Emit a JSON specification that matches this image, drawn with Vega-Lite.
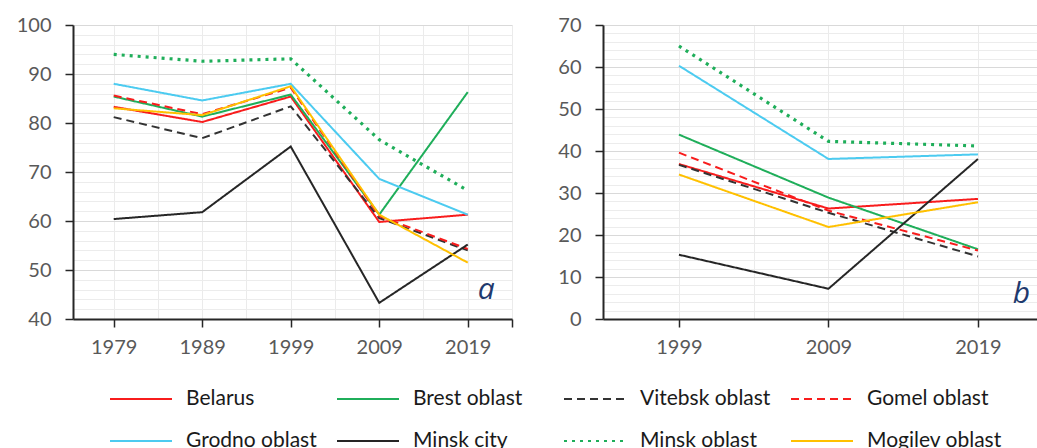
{
  "$schema": "https://vega.github.io/schema/vega-lite/v6.json",
  "padding": {"left": 16, "top": 15, "right": 0, "bottom": 0},
  "background": "white",
  "config": {
    "view": {"stroke": null},
    "font": "Lato",
    "concat": {"spacing": 44},
    "axis": {
      "labelFont": "Lato",
      "labelFontSize": 20,
      "labelColor": "#595959",
      "domainColor": "#262626",
      "domainWidth": 2,
      "tickWidth": 1.5,
      "tickSize": 8,
      "title": null,
      "labelOverlap": false,
      "labelFlush": false
    }
  },
  "datasets": {
    "a": [
      {"series": "Belarus", "year": 1979, "value": 83.3},
      {"series": "Belarus", "year": 1989, "value": 80.2},
      {"series": "Belarus", "year": 1999, "value": 85.4},
      {"series": "Belarus", "year": 2009, "value": 59.8},
      {"series": "Belarus", "year": 2019, "value": 61.3},
      {"series": "Brest oblast", "year": 1979, "value": 85.4},
      {"series": "Brest oblast", "year": 1989, "value": 81.3},
      {"series": "Brest oblast", "year": 1999, "value": 85.8},
      {"series": "Brest oblast", "year": 2009, "value": 61.3},
      {"series": "Brest oblast", "year": 2019, "value": 86.3},
      {"series": "Vitebsk oblast", "year": 1979, "value": 81.2},
      {"series": "Vitebsk oblast", "year": 1989, "value": 76.9},
      {"series": "Vitebsk oblast", "year": 1999, "value": 83.4},
      {"series": "Vitebsk oblast", "year": 2009, "value": 60.6},
      {"series": "Vitebsk oblast", "year": 2019, "value": 54.0},
      {"series": "Gomel oblast", "year": 1979, "value": 85.6},
      {"series": "Gomel oblast", "year": 1989, "value": 81.8},
      {"series": "Gomel oblast", "year": 1999, "value": 87.2},
      {"series": "Gomel oblast", "year": 2009, "value": 61.0},
      {"series": "Gomel oblast", "year": 2019, "value": 54.3},
      {"series": "Grodno oblast", "year": 1979, "value": 88.0},
      {"series": "Grodno oblast", "year": 1989, "value": 84.6},
      {"series": "Grodno oblast", "year": 1999, "value": 88.0},
      {"series": "Grodno oblast", "year": 2009, "value": 68.6},
      {"series": "Grodno oblast", "year": 2019, "value": 61.3},
      {"series": "Minsk city", "year": 1979, "value": 60.4},
      {"series": "Minsk city", "year": 1989, "value": 61.8},
      {"series": "Minsk city", "year": 1999, "value": 75.2},
      {"series": "Minsk city", "year": 2009, "value": 43.3},
      {"series": "Minsk city", "year": 2019, "value": 55.2},
      {"series": "Minsk oblast", "year": 1979, "value": 94.0},
      {"series": "Minsk oblast", "year": 1989, "value": 92.6},
      {"series": "Minsk oblast", "year": 1999, "value": 93.1},
      {"series": "Minsk oblast", "year": 2009, "value": 76.6},
      {"series": "Minsk oblast", "year": 2019, "value": 66.2},
      {"series": "Mogilev oblast", "year": 1979, "value": 83.0},
      {"series": "Mogilev oblast", "year": 1989, "value": 81.6},
      {"series": "Mogilev oblast", "year": 1999, "value": 87.5},
      {"series": "Mogilev oblast", "year": 2009, "value": 61.3},
      {"series": "Mogilev oblast", "year": 2019, "value": 51.5}
    ],
    "b": [
      {"series": "Belarus", "year": 1999, "value": 36.9},
      {"series": "Belarus", "year": 2009, "value": 26.3},
      {"series": "Belarus", "year": 2019, "value": 28.6},
      {"series": "Brest oblast", "year": 1999, "value": 43.9},
      {"series": "Brest oblast", "year": 2009, "value": 28.9},
      {"series": "Brest oblast", "year": 2019, "value": 16.6},
      {"series": "Vitebsk oblast", "year": 1999, "value": 36.7},
      {"series": "Vitebsk oblast", "year": 2009, "value": 25.3},
      {"series": "Vitebsk oblast", "year": 2019, "value": 14.9},
      {"series": "Gomel oblast", "year": 1999, "value": 39.6},
      {"series": "Gomel oblast", "year": 2009, "value": 25.8},
      {"series": "Gomel oblast", "year": 2019, "value": 16.3},
      {"series": "Grodno oblast", "year": 1999, "value": 60.3},
      {"series": "Grodno oblast", "year": 2009, "value": 38.1},
      {"series": "Grodno oblast", "year": 2019, "value": 39.2},
      {"series": "Minsk city", "year": 1999, "value": 15.3},
      {"series": "Minsk city", "year": 2009, "value": 7.2},
      {"series": "Minsk city", "year": 2019, "value": 38.1},
      {"series": "Minsk oblast", "year": 1999, "value": 65.0},
      {"series": "Minsk oblast", "year": 2009, "value": 42.3},
      {"series": "Minsk oblast", "year": 2019, "value": 41.2},
      {"series": "Mogilev oblast", "year": 1999, "value": 34.4},
      {"series": "Mogilev oblast", "year": 2009, "value": 21.9},
      {"series": "Mogilev oblast", "year": 2019, "value": 27.8}
    ],
    "labels_a": [{"label": "a"}],
    "labels_b": [{"label": "b"}]
  },
  "resolve": {"scale": {"color": "shared", "strokeDash": "shared"}},
  "hconcat": [
    {
      "width": 439,
      "height": 294,
      "layer": [
        {
          "data": {"name": "a"},
          "mark": {"type": "line", "strokeJoin": "miter"},
          "encoding": {
            "x": {
              "field": "year", "type": "quantitative",
              "scale": {"domain": [1974.4, 2024], "nice": false, "zero": false},
              "axis": {
                "values": [1979, 1984, 1989, 1994, 1999, 2004, 2009, 2014, 2019, 2024],
                "tickCount": 100,
                "format": "d",
                "labelOverlap": false,
                "labelExpr": "((datum.value - 1979) % 10 === 0 && datum.value < 2020) ? datum.label : ''",
                "grid": true,
                "gridColor": "#ebebeb",
                "tickColor": {"condition": {"test": "(datum.value - 1979) % 10 === 0 || datum.value === 2024", "value": "#262626"}, "value": "transparent"},
                "labelPadding": 10
              }
            },
            "y": {
              "field": "value", "type": "quantitative",
              "scale": {"domain": [40, 100], "nice": false, "zero": false},
              "axis": {
                "values": [40, 42, 44, 46, 48, 50, 52, 54, 56, 58, 60, 62, 64, 66, 68, 70, 72, 74, 76, 78, 80, 82, 84, 86, 88, 90, 92, 94, 96, 98, 100],
                "tickCount": 100,
                "format": "d",
                "labelOverlap": false,
                "labelExpr": "datum.value % 10 === 0 ? datum.label : ''",
                "grid": true,
                "gridColor": {"condition": {"test": "datum.value % 10 === 0", "value": "#d9d9d9"}, "value": "#ececec"},
                "tickColor": {"condition": {"test": "datum.value % 10 === 0", "value": "#262626"}, "value": "transparent"},
                "labelPadding": 14
              }
            },
            "color": {
              "field": "series", "type": "nominal",
              "scale": {
                "domain": ["Belarus", "Brest oblast", "Vitebsk oblast", "Gomel oblast", "Grodno oblast", "Minsk city", "Minsk oblast", "Mogilev oblast"],
                "range": ["#f81c1c", "#1fae5a", "#333333", "#f81c1c", "#4ccbf0", "#262626", "#1fae5a", "#ffc000"]
              },
              "legend": {
                "title": null, "orient": "none", "legendX": 36, "legendY": 342, "columns": 4, "direction": "horizontal",
                "gridAlign": "all", "columnPadding": 12, "rowPadding": -31, "padding": 0,
                "symbolType": "stroke", "symbolSize": 3844, "symbolStrokeWidth": 2,
                "labelOffset": 13, "labelFont": "Lato", "labelFontSize": 21, "labelColor": "#1a1a1a", "labelLimit": 300
              }
            },
            "strokeDash": {
              "field": "series", "type": "nominal",
              "scale": {
                "domain": ["Belarus", "Brest oblast", "Vitebsk oblast", "Gomel oblast", "Grodno oblast", "Minsk city", "Minsk oblast", "Mogilev oblast"],
                "range": [[1, 0], [1, 0], [8, 5], [8, 5], [1, 0], [1, 0], [3, 5], [1, 0]]
              },
              "legend": {
                "title": null, "orient": "none", "legendX": 36, "legendY": 342, "columns": 4, "direction": "horizontal",
                "gridAlign": "all", "columnPadding": 12, "rowPadding": -31, "padding": 0,
                "symbolType": "stroke", "symbolSize": 3844, "symbolStrokeWidth": 2,
                "labelOffset": 13, "labelFont": "Lato", "labelFontSize": 21, "labelColor": "#1a1a1a", "labelLimit": 300
              }
            },
            "strokeWidth": {"condition": {"test": "datum.series === 'Minsk oblast'", "value": 3.2}, "value": 2}
          }
        },
        {
          "data": {"name": "labels_a"},
          "mark": {"type": "text", "font": "Open Sans", "fontStyle": "italic", "fontSize": 30, "color": "#1f3a6e", "align": "center", "baseline": "middle"},
          "encoding": {"text": {"field": "label"}, "x": {"datum": 2021.1}, "y": {"datum": 46.0}}
        }
      ]
    },
    {
      "width": 437,
      "height": 294,
      "layer": [
        {
          "data": {"name": "b"},
          "mark": {"type": "line", "strokeJoin": "miter"},
          "encoding": {
            "x": {
              "field": "year", "type": "quantitative",
              "scale": {"domain": [1993.92, 2023.15], "nice": false, "zero": false},
              "axis": {
                "values": [1999, 2004, 2009, 2014, 2019],
                "tickCount": 100,
                "format": "d",
                "labelOverlap": false,
                "labelExpr": "(datum.value - 1999) % 10 === 0 ? datum.label : ''",
                "grid": true,
                "gridColor": "#ebebeb",
                "tickColor": {"condition": {"test": "(datum.value - 1999) % 10 === 0", "value": "#262626"}, "value": "transparent"},
                "labelPadding": 10
              }
            },
            "y": {
              "field": "value", "type": "quantitative",
              "scale": {"domain": [0, 70], "nice": false, "zero": false},
              "axis": {
                "values": [0, 2, 4, 6, 8, 10, 12, 14, 16, 18, 20, 22, 24, 26, 28, 30, 32, 34, 36, 38, 40, 42, 44, 46, 48, 50, 52, 54, 56, 58, 60, 62, 64, 66, 68, 70],
                "tickCount": 100,
                "format": "d",
                "labelOverlap": false,
                "labelExpr": "datum.value % 10 === 0 ? datum.label : ''",
                "grid": true,
                "gridColor": {"condition": {"test": "datum.value % 10 === 0", "value": "#d9d9d9"}, "value": "#ececec"},
                "tickColor": {"condition": {"test": "datum.value % 10 === 0", "value": "#262626"}, "value": "transparent"},
                "labelPadding": 14
              }
            },
            "color": {
              "field": "series", "type": "nominal",
              "scale": {
                "domain": ["Belarus", "Brest oblast", "Vitebsk oblast", "Gomel oblast", "Grodno oblast", "Minsk city", "Minsk oblast", "Mogilev oblast"],
                "range": ["#f81c1c", "#1fae5a", "#333333", "#f81c1c", "#4ccbf0", "#262626", "#1fae5a", "#ffc000"]
              },
              "legend": {
                "title": null, "orient": "none", "legendX": 36, "legendY": 342, "columns": 4, "direction": "horizontal",
                "gridAlign": "all", "columnPadding": 12, "rowPadding": -31, "padding": 0,
                "symbolType": "stroke", "symbolSize": 3844, "symbolStrokeWidth": 2,
                "labelOffset": 13, "labelFont": "Lato", "labelFontSize": 21, "labelColor": "#1a1a1a", "labelLimit": 300
              }
            },
            "strokeDash": {
              "field": "series", "type": "nominal",
              "scale": {
                "domain": ["Belarus", "Brest oblast", "Vitebsk oblast", "Gomel oblast", "Grodno oblast", "Minsk city", "Minsk oblast", "Mogilev oblast"],
                "range": [[1, 0], [1, 0], [8, 5], [8, 5], [1, 0], [1, 0], [3, 5], [1, 0]]
              },
              "legend": {
                "title": null, "orient": "none", "legendX": 36, "legendY": 342, "columns": 4, "direction": "horizontal",
                "gridAlign": "all", "columnPadding": 12, "rowPadding": -31, "padding": 0,
                "symbolType": "stroke", "symbolSize": 3844, "symbolStrokeWidth": 2,
                "labelOffset": 13, "labelFont": "Lato", "labelFontSize": 21, "labelColor": "#1a1a1a", "labelLimit": 300
              }
            },
            "strokeWidth": {"condition": {"test": "datum.series === 'Minsk oblast'", "value": 3.2}, "value": 2}
          }
        },
        {
          "data": {"name": "labels_b"},
          "mark": {"type": "text", "font": "Open Sans", "fontStyle": "italic", "fontSize": 30, "color": "#1f3a6e", "align": "center", "baseline": "middle"},
          "encoding": {"text": {"field": "label"}, "x": {"datum": 2021.9}, "y": {"datum": 6.0}}
        }
      ]
    }
  ]
}
